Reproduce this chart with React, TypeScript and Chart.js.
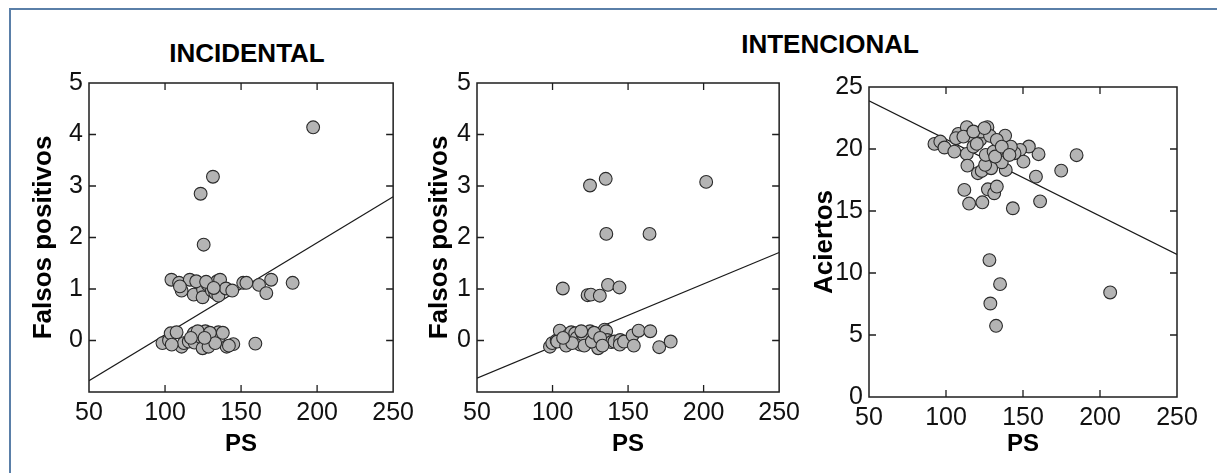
import React, { useEffect, useRef } from 'react';
import { Chart, registerables } from 'chart.js';
Chart.register(...registerables);

const FONT = "'Liberation Sans', Arial, Helvetica, sans-serif";

// Tick values
const xTicks = [50, 100, 150, 200, 250];
const yTicksFP = [0, 1, 2, 3, 4, 5];
const yTicksAc = [0, 5, 10, 15, 20, 25];

// Panel 1: INCIDENTAL — PS vs Falsos positivos
const incPS = [
  197.4, 131.5, 123.4, 125.4,
  104.2, 109.2, 110.9, 116.3, 118.9, 123.9, 125.0, 124.7, 128.2, 130.8, 133.0, 134.3, 135.1, 136.2,
  140.1, 144.2, 151.4, 153.5, 161.8, 166.6, 169.8, 183.9, 109.8, 120.5, 127.0, 132.0,
  98.3, 102.6, 103.7, 107.6, 110.9, 112.4, 104.4, 115.6, 118.9, 119.4, 123.2, 124.7, 126.5, 128.6,
  131.9, 135.1, 135.1, 140.5, 144.9, 159.4, 121.5, 129.5, 133.0, 126.0, 117.0, 138.0, 142.0,
];
const incFP = [
  4.14, 3.18, 2.85, 1.86,
  1.18, 1.12, 0.97, 1.18, 0.89, 1.10, 0.99, 0.84, 1.08, 0.97, 0.92, 1.15, 0.87, 1.18,
  1.01, 0.97, 1.12, 1.12, 1.08, 0.92, 1.18, 1.12, 1.05, 1.15, 1.14, 1.02,
  -0.05, 0.0, 0.14, 0.16, -0.12, -0.05, -0.08, -0.02, 0.14, -0.04, 0.07, -0.15, 0.18, -0.12,
  0.08, 0.16, 0.01, -0.12, -0.07, -0.06, 0.18, 0.15, -0.05, 0.05, 0.05, 0.15, -0.1,
];
const incLinePS = [50, 250];
const incLineFP = [-0.78, 2.79];

// Panel 2: INTENCIONAL — PS vs Falsos positivos
const intPS = [
  201.7, 135.2, 124.8, 135.6, 164.2, 106.8, 123.2, 125.4, 131.3, 136.7, 144.3,
  98.3, 99.8, 102.7, 104.8, 103.1, 109.0, 110.7, 112.4, 115.0, 118.3, 122.6, 124.8, 128.0, 129.7,
  130.2, 134.5, 135.5, 136.2, 138.9, 141.0, 144.8, 144.5, 147.3, 153.0, 153.8, 157.0, 164.7, 170.6,
  178.2, 116.0, 120.0, 121.0, 126.0, 127.5, 131.5, 133.0, 119.0, 113.0, 107.0,
];
const intFP = [
  3.08, 3.14, 3.01, 2.07, 2.07, 1.01, 0.88, 0.89, 0.87, 1.08, 1.03,
  -0.12, -0.05, 0.0, 0.19, -0.02, -0.1, 0.11, 0.16, 0.14, -0.08, -0.05, 0.18, 0.06, 0.09,
  -0.15, 0.21, 0.18, 0.01, -0.03, -0.02, 0.01, -0.08, -0.02, 0.1, -0.1, 0.19, 0.18, -0.13,
  -0.02, 0.05, 0.12, -0.1, -0.02, 0.15, 0.05, -0.1, 0.18, -0.05, 0.05,
];
const intLinePS = [50, 250];
const intLineFP = [-0.73, 1.71];

// Panel 3: INTENCIONAL — PS vs Aciertos
const acPS = [
  206.6, 128.2, 135.1, 128.8, 132.5, 143.4, 161.1, 115.0, 123.6, 111.9, 127.2, 131.3, 133.0,
  158.4, 174.8, 184.8, 160.1, 153.8, 148.1, 150.3, 144.5, 138.4, 138.8, 136.2, 142.1, 133.6,
  92.5, 96.3, 99.0, 105.4, 108.0, 106.5, 113.5, 115.6, 113.5, 113.9, 117.8, 122.1, 123.2, 126.9,
  128.6, 120.7, 123.2, 129.3, 125.4, 125.8, 130.9, 133.0, 120.0, 111.3, 117.8, 125.0, 131.9,
  136.2, 141.2,
];
const acAc = [
  8.43, 11.04, 9.1, 7.54, 5.74, 15.22, 15.78, 15.6, 15.7, 16.7, 16.75, 16.43, 16.97,
  17.77, 18.26, 19.5, 19.58, 20.2, 19.93, 18.98, 19.66, 21.08, 18.31, 18.93, 20.19, 19.93,
  20.41, 20.6, 20.12, 19.79, 21.22, 20.87, 21.76, 21.06, 19.6, 18.66, 20.19, 20.73, 21.41, 21.76,
  21.06, 18.05, 18.23, 18.45, 18.72, 19.52, 19.79, 20.73, 20.41, 21.0, 21.41, 21.68, 19.39,
  20.19, 19.52,
];
const acLinePS = [50, 250];
const acLineAc = [23.88, 11.5];

const framePlugin = {
  id: 'frame',
  afterDatasetsDraw(chart: any) {
    const { ctx, chartArea, scales } = chart;
    const { left, right, top, bottom } = chartArea;
    const x = scales.x;
    const y = scales.y;
    const L = 7;
    ctx.save();
    ctx.strokeStyle = '#1e1e1e';
    ctx.lineWidth = 1.5;
    ctx.strokeRect(left, top, right - left, bottom - top);
    ctx.lineWidth = 1.3;
    ctx.beginPath();
    x.ticks.forEach((t: any) => {
      if (t.value <= x.min || t.value >= x.max) return;
      const p = x.getPixelForValue(t.value);
      ctx.moveTo(p, top);
      ctx.lineTo(p, top + L);
      ctx.moveTo(p, bottom);
      ctx.lineTo(p, bottom - L);
    });
    y.ticks.forEach((t: any) => {
      if (t.value <= y.min || t.value >= y.max) return;
      const p = y.getPixelForValue(t.value);
      ctx.moveTo(left, p);
      ctx.lineTo(left + L, p);
      ctx.moveTo(right, p);
      ctx.lineTo(right - L, p);
    });
    ctx.stroke();
    ctx.restore();
  },
};

type PanelProps = {
  left: number;
  width: number;
  padLeft: number;
  padTop: number;
  padRight: number;
  yAxisWidth: number;
  xAxisHeight: number;
  yMin: number;
  yMax: number;
  yTicks: number[];
  yTitle: string;
  px: number[];
  py: number[];
  lx: number[];
  ly: number[];
};

const H = 473;

function Panel(p: PanelProps) {
  const ref = useRef<HTMLCanvasElement | null>(null);
  useEffect(() => {
    if (!ref.current) return;
    const chart = new Chart(ref.current, {
      type: 'scatter',
      data: {
        datasets: [
          {
            type: 'scatter',
            data: p.px.map((v, i) => ({ x: v, y: p.py[i] })),
            pointRadius: 6.4,
            pointBackgroundColor: '#b4b4b4',
            pointBorderColor: '#2b2b2b',
            pointBorderWidth: 1.1,
            order: 0,
          } as any,
          {
            type: 'line',
            data: p.lx.map((v, i) => ({ x: v, y: p.ly[i] })),
            borderColor: '#1a1a1a',
            borderWidth: 1.2,
            pointRadius: 0,
            fill: false,
            tension: 0,
            order: 1,
          } as any,
        ],
      },
      options: {
        responsive: false,
        animation: false,
        layout: { padding: { left: p.padLeft, top: p.padTop, right: p.padRight, bottom: 14 } },
        plugins: { legend: { display: false }, tooltip: { enabled: false } },
        scales: {
          x: {
            type: 'linear',
            min: 50,
            max: 250,
            afterBuildTicks: (s: any) => {
              s.ticks = xTicks.map((v) => ({ value: v }));
            },
            afterFit: (s: any) => {
              s.height = p.xAxisHeight;
            },
            grid: { display: false, drawTicks: false },
            border: { display: false },
            ticks: {
              padding: 6,
              autoSkip: false,
              maxRotation: 0,
              minRotation: 0,
              color: '#111',
              font: { family: FONT, size: 25 },
            },
            title: {
              display: true,
              text: 'PS',
              color: '#000',
              padding: 0,
              font: { family: FONT, size: 24, weight: 'bold' },
            },
          },
          y: {
            type: 'linear',
            min: p.yMin,
            max: p.yMax,
            afterBuildTicks: (s: any) => {
              s.ticks = p.yTicks.map((v) => ({ value: v }));
            },
            afterFit: (s: any) => {
              s.width = p.yAxisWidth;
            },
            grid: { display: false, drawTicks: false },
            border: { display: false },
            ticks: {
              padding: 6,
              autoSkip: false,
              color: '#111',
              font: { family: FONT, size: 25 },
            },
            title: {
              display: true,
              text: p.yTitle,
              color: '#000',
              padding: 0,
              font: { family: FONT, size: 26, weight: 'bold' },
            },
          },
        },
      } as any,
      plugins: [framePlugin],
    });
    return () => chart.destroy();
  }, []);
  return (
    <canvas
      ref={ref}
      width={p.width}
      height={H}
      style={{ position: 'absolute', left: p.left, top: 0, width: p.width, height: H }}
    />
  );
}

export default function App() {
  return (
    <div
      style={{
        position: 'fixed',
        left: 0,
        top: 0,
        width: 1217,
        height: 473,
        overflow: 'hidden',
        background: '#fff',
        fontFamily: FONT,
      }}
    >
      <div
        style={{
          position: 'absolute',
          left: 9,
          top: 8,
          width: 1400,
          height: 700,
          borderLeft: '2px solid #5a7fa8',
          borderTop: '2px solid #5a7fa8',
        }}
      />
      <div
        style={{
          position: 'absolute',
          left: 97,
          top: 40,
          width: 300,
          textAlign: 'center',
          fontSize: 26,
          lineHeight: '26px',
          fontWeight: 'bold',
          color: '#000',
        }}
      >
        INCIDENTAL
      </div>
      <div
        style={{
          position: 'absolute',
          left: 680,
          top: 31,
          width: 300,
          textAlign: 'center',
          fontSize: 26,
          lineHeight: '26px',
          fontWeight: 'bold',
          color: '#000',
        }}
      >
        INTENCIONAL
      </div>
      <Panel
        left={0}
        width={420}
        padLeft={28}
        padTop={83}
        padRight={23}
        yAxisWidth={61}
        xAxisHeight={67}
        yMin={-1}
        yMax={5}
        yTicks={yTicksFP}
        yTitle="Falsos positivos"
        px={incPS}
        py={incFP}
        lx={incLinePS}
        ly={incLineFP}
      />
      <Panel
        left={420}
        width={386}
        padLeft={4}
        padTop={83}
        padRight={22}
        yAxisWidth={53}
        xAxisHeight={67}
        yMin={-1}
        yMax={5}
        yTicks={yTicksFP}
        yTitle="Falsos positivos"
        px={intPS}
        py={intFP}
        lx={intLinePS}
        ly={intLineFP}
      />
      <Panel
        left={806}
        width={411}
        padLeft={3}
        padTop={87}
        padRight={40}
        yAxisWidth={60}
        xAxisHeight={62}
        yMin={0}
        yMax={25}
        yTicks={yTicksAc}
        yTitle="Aciertos"
        px={acPS}
        py={acAc}
        lx={acLinePS}
        ly={acLineAc}
      />
    </div>
  );
}
